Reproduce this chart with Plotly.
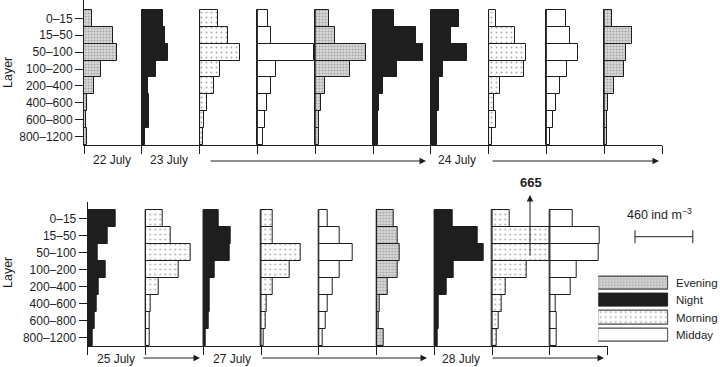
import plotly.graph_objects as go

# ---------------- data (ind m^-3) ----------------
LAYERS = ["0–15", "15–50", "50–100", "100–200", "200–400", "400–600", "600–800", "800–1200"]

TOP_PERIODS = ["Evening", "Night", "Morning", "Midday", "Evening",
               "Night", "Night", "Morning", "Midday", "Evening"]
TOP_VALUES = [
    [64, 230, 266, 134, 78, 20, 16, 24],      # 22 July evening
    [166, 184, 206, 114, 48, 58, 56, 22],     # night
    [150, 224, 320, 160, 118, 62, 34, 24],    # morning
    [82, 110, 454, 150, 110, 80, 58, 46],     # midday
    [112, 154, 408, 274, 74, 46, 30, 30],     # evening
    [170, 344, 394, 192, 78, 46, 40, 40],     # night
    [226, 160, 286, 98, 62, 66, 46, 46],      # night (24 July)
    [58, 214, 296, 282, 90, 46, 56, 24],      # morning
    [152, 186, 250, 162, 106, 78, 56, 30],    # midday
    [66, 224, 174, 158, 80, 32, 22, 24],      # evening
]

BOTTOM_PERIODS = ["Night", "Morning", "Night", "Morning", "Midday",
                  "Evening", "Night", "Morning", "Midday"]
BOTTOM_VALUES = [
    [222, 160, 80, 146, 88, 72, 56, 40],      # 25 July night
    [136, 200, 362, 264, 104, 42, 34, 32],    # morning
    [120, 216, 210, 94, 48, 48, 40, 22],      # 27 July night
    [94, 94, 312, 226, 94, 46, 34, 22],       # morning
    [74, 166, 266, 166, 110, 74, 56, 30],     # midday
    [134, 168, 186, 168, 88, 22, 18, 54],     # evening
    [142, 346, 392, 152, 98, 38, 38, 26],     # 28 July night
    [142, 460, 665, 274, 110, 80, 54, 40],    # morning (665 off scale)
    [178, 394, 390, 214, 168, 42, 54, 50],    # midday
]

PANEL_STEP = 460          # horizontal spacing between profiles = scale bar value
SCALE_VALUE = 460
OFFSCALE_VALUE = 665
LEGEND_ORDER = ["Evening", "Night", "Morning", "Midday"]

TOP_DATES = [("22 July", 112), ("23 July", 169), ("24 July", 457)]
BOTTOM_DATES = [("25 July", 116), ("27 July", 232), ("28 July", 461)]

# ---------------- styling ----------------
W, H = 720, 367
INK = "#1e1e1e"
FONT = "Liberation Sans, Arial, sans-serif"


def px(x):
    return x / W


def py(y):
    return 1 - y / H


STYLES = {
    "Evening": dict(color="#dadada",
                    pattern=dict(shape=".", size=3, solidity=0.4, fgcolor="#707070", bgcolor="#dadada")),
    "Night": dict(color=INK, pattern=dict(shape="")),
    "Morning": dict(color="white",
                    pattern=dict(shape=".", size=5, solidity=0.12, fgcolor="#555555", bgcolor="white")),
    "Midday": dict(color="white", pattern=dict(shape="")),
}

fig = go.Figure()

ROWS = [
    dict(periods=TOP_PERIODS, values=TOP_VALUES, xa="x", ya="y", xname="xaxis", yname="yaxis",
         x0=84, x1=662, ytop=0, ybot=145, ylo=-1.09),
    dict(periods=BOTTOM_PERIODS, values=BOTTOM_VALUES, xa="x2", ya="y2", xname="xaxis2", yname="yaxis2",
         x0=87.7, x1=607.7, ytop=202, ybot=346, ylo=-0.97),
]

shapes = []
for row in ROWS:
    n = len(row["values"])
    for k, (period, vals) in enumerate(zip(row["periods"], row["values"])):
        st = STYLES[period]
        shown = [min(v, PANEL_STEP) for v in vals]
        fig.add_trace(go.Bar(
            y=LAYERS, x=shown, base=[k * PANEL_STEP] * len(vals), orientation="h",
            width=1.0, xaxis=row["xa"], yaxis=row["ya"], showlegend=False,
            marker=dict(color=st["color"], pattern=st["pattern"],
                        line=dict(color=INK, width=1)),
            hoverinfo="skip",
        ))
        if k > 0:
            shapes.append(dict(type="line", xref=row["xa"], yref=row["ya"],
                               x0=k * PANEL_STEP, x1=k * PANEL_STEP, y0=-0.5, y1=7.5,
                               line=dict(color=INK, width=1)))
    xr = n * PANEL_STEP
    fig.layout[row["xname"]] = dict(
        domain=[px(row["x0"]), px(row["x1"])], range=[0, xr], anchor=row["ya"],
        showline=True, linecolor=INK, linewidth=1, ticks="outside", ticklen=8,
        tickcolor=INK, tickvals=[k * PANEL_STEP for k in range(n + 1)],
        showticklabels=False, showgrid=False, zeroline=False, fixedrange=True)
    fig.layout[row["yname"]] = dict(
        domain=[py(row["ybot"]), py(row["ytop"])], range=[7.5, row["ylo"]],
        anchor=row["xa"], type="category", categoryorder="array", categoryarray=LAYERS,
        showline=True, linecolor=INK, linewidth=1, ticks="outside", ticklen=8,
        tickcolor=INK, showgrid=False, zeroline=False,
        tickfont=dict(size=12, color=INK, family=FONT))

# ---------------- legend as patterned bars ----------------
for period in LEGEND_ORDER:
    st = STYLES[period]
    fig.add_trace(go.Bar(
        y=[period], x=[1], orientation="h", width=0.76, xaxis="x3", yaxis="y3",
        showlegend=False, hoverinfo="skip",
        marker=dict(color=st["color"], pattern=st["pattern"], line=dict(color=INK, width=1))))
fig.layout["xaxis3"] = dict(domain=[px(598.3), px(668.3)], range=[0, 1], visible=False,
                            anchor="y3", fixedrange=True)
fig.layout["yaxis3"] = dict(domain=[py(343.4), py(274.6)], range=[3.5, -0.5], anchor="x3",
                            type="category", categoryorder="array", categoryarray=LEGEND_ORDER,
                            visible=False)

ann = []
for period in LEGEND_ORDER:
    ann.append(dict(text=period, x=px(674), y=period, xref="paper", yref="y3",
                    xanchor="left", yanchor="middle", showarrow=False,
                    font=dict(size=11.5, color=INK, family=FONT)))

# ---------------- annotations ----------------
for (label, cx) in TOP_DATES:
    ann.append(dict(text=label, x=px(cx), y=py(160), xref="paper", yref="paper",
                    xanchor="center", yanchor="middle", showarrow=False,
                    font=dict(size=12, color=INK, family=FONT)))
for (label, cx) in BOTTOM_DATES:
    ann.append(dict(text=label, x=px(cx), y=py(359), xref="paper", yref="paper",
                    xanchor="center", yanchor="middle", showarrow=False,
                    font=dict(size=12, color=INK, family=FONT)))

# time arrows (tail_x, head_x, y)
ARROWS = [(209, 426, 161), (491, 659, 161), (142, 200, 358), (261, 427, 358), (491, 604, 358)]
for (tx, hx, yy) in ARROWS:
    ann.append(dict(text="", x=px(hx), y=py(yy), xref="paper", yref="paper",
                    ax=tx - hx, ay=0, axref="pixel", ayref="pixel", showarrow=True,
                    arrowhead=2, arrowsize=1.3, arrowwidth=1, arrowcolor=INK))

# off-scale arrow
ann.append(dict(text="", x=px(530), y=py(195), xref="paper", yref="paper",
                ax=0, ay=62, showarrow=True, arrowhead=2, arrowsize=1.3,
                arrowwidth=1, arrowcolor=INK))
ann.append(dict(text=f"<b>{OFFSCALE_VALUE}</b>", x=px(531), y=py(183), xref="paper", yref="paper",
                xanchor="center", yanchor="middle", showarrow=False,
                font=dict(size=13, color=INK, family=FONT)))

# Layer labels
for yc in (73, 273):
    ann.append(dict(text="Layer", x=px(8), y=py(yc), xref="paper", yref="paper",
                    textangle=-90, xanchor="center", yanchor="middle", showarrow=False,
                    font=dict(size=12.5, color=INK, family=FONT)))

# scale bar
scale_px = SCALE_VALUE * (662 - 84) / (len(TOP_VALUES) * PANEL_STEP)
sx0, sy = 635, 236.7
sx1 = sx0 + scale_px
ann.append(dict(text=f"{SCALE_VALUE} ind m<sup>−3</sup>", x=px(659), y=py(214),
                xref="paper", yref="paper", xanchor="center", yanchor="middle",
                showarrow=False, font=dict(size=12.5, color=INK, family=FONT)))
shapes.append(dict(type="line", xref="paper", yref="paper", x0=px(sx0), x1=px(sx1),
                   y0=py(sy), y1=py(sy), line=dict(color=INK, width=1)))
for xx in (sx0, sx1):
    shapes.append(dict(type="line", xref="paper", yref="paper", x0=px(xx), x1=px(xx),
                       y0=py(sy - 6.5), y1=py(sy + 6.5), line=dict(color=INK, width=1)))

fig.update_layout(
    width=W, height=H, margin=dict(l=0, r=0, t=0, b=0),
    paper_bgcolor="white", plot_bgcolor="rgba(0,0,0,0)",
    barmode="overlay", bargap=0, showlegend=False,
    font=dict(family=FONT, color=INK, size=12),
    annotations=ann, shapes=shapes,
)

fig.write_html("out.html")
